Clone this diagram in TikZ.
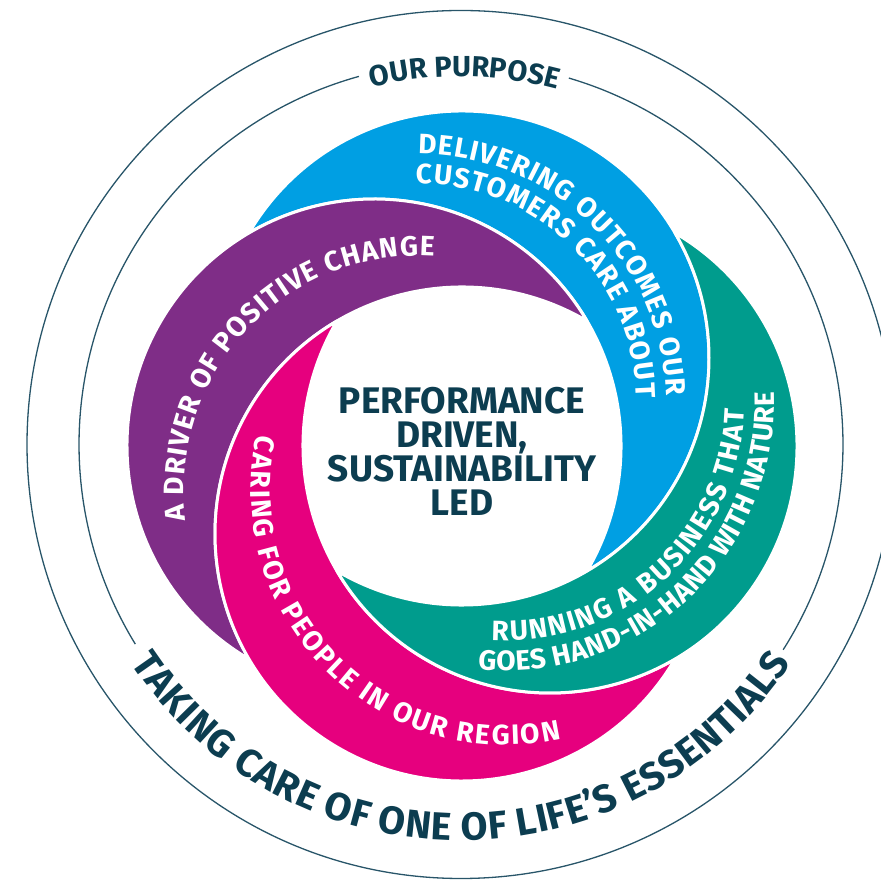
\documentclass[tikz,border=0pt]{standalone}
\usepackage{fontspec}
\setmainfont{Fira Sans}
\usetikzlibrary{decorations.text}
\definecolor{navy}{RGB}{12,61,80}
\definecolor{ringc}{RGB}{40,85,105}
\definecolor{cblue}{RGB}{0,159,227}
\definecolor{cpurple}{RGB}{127,45,135}
\definecolor{cpink}{RGB}{230,0,126}
\definecolor{cteal}{RGB}{0,156,141}
\newcommand\bandfont{\fontsize{28}{28}\selectfont\bfseries}
\newcommand\ringfont{\fontsize{39}{39}\selectfont\bfseries}
\newcommand\purposefont{\fontsize{29}{29}\selectfont\bfseries}
\tikzset{
  ring/.style={draw=ringc, line width=1.3pt},
  crescent/.style={draw=white, line width=3pt, line join=round},
  arctext/.style 2 args={decorate, decoration={text along path, text align=fit to path, text color=#1, text={#2}}}
}
\begin{document}
\begin{tikzpicture}[x=1pt,y=1pt]
\useasboundingbox (0,0) rectangle (881,881);
\clip (0,0) rectangle (881,881);
% rings
\begin{scope}[shift={(461,436.5)}]
  \draw[ring] (0,0) circle[radius=434];
  \draw[ring] (-32.5:382) arc[start angle=-32.5, end angle=73.6, radius=382];
  \draw[ring] (105.5:382) arc[start angle=105.5, end angle=211.5, radius=382];
  \path[arctext={navy}{|\purposefont|OUR PURPOSE}] (104:368) arc[start angle=104, end angle=75.6, radius=368];
  \path[arctext={navy}{|\ringfont|TAKING CARE OF ONE OF LIFE’S ESSENTIALS}] (213.5:396) arc[start angle=213.5, end angle=326.5, radius=396];
\end{scope}
% swirl
\begin{scope}[shift={(462,435)}]
  \foreach \ang/\col in {0/cblue, 90/cpurple, 180/cpink, 270/cteal} {
    \begin{scope}[rotate=\ang]
      \path[crescent, fill=\col] (-213.02,213.02) arc[start angle=149.59, end angle=-59.59, radius=247]
        arc[start angle=-30.41, end angle=120.41, radius=247] -- cycle;
    \end{scope}
  }
\end{scope}
% blue text
\begin{scope}[shift={(418,479)}]
  \path[arctext={white}{|\bandfont|DELIVERING OUTCOMES OUR}] (90:248) arc[start angle=90, end angle=1.5, radius=248];
  \path[arctext={white}{|\bandfont|CUSTOMERS CARE ABOUT}] (90.6:218.5) arc[start angle=90.6, end angle=1, radius=218.5];
\end{scope}
% purple text
\begin{scope}[shift={(418,391)}]
  \path[arctext={white}{|\bandfont|A DRIVER OF POSITIVE CHANGE}] (187.5:234) arc[start angle=187.5, end angle=86, radius=234];
\end{scope}
% pink text
\begin{scope}[shift={(506,391)}]
  \path[arctext={white}{|\bandfont|CARING FOR PEOPLE IN OUR REGION}] (167.5:255) arc[start angle=167.5, end angle=282.5, radius=255];
\end{scope}
% teal text
\begin{scope}[shift={(506,479)}]
  \path[arctext={white}{|\bandfont|RUNNING A BUSINESS THAT}] (266.5:238.5) arc[start angle=266.5, end angle=358.2, radius=238.5];
  \path[arctext={white}{|\bandfont|GOES HAND-IN-HAND WITH NATURE}] (264:268.5) arc[start angle=264, end angle=362.2, radius=268.5];
\end{scope}
% centre
\node[font=\fontsize{37}{34}\selectfont\bfseries, text=navy, align=center] (centre) at (462,429.5)
  {PERFORMANCE\\DRIVEN,\\SUSTAINABILITY\\LED};
\end{tikzpicture}
\end{document}
